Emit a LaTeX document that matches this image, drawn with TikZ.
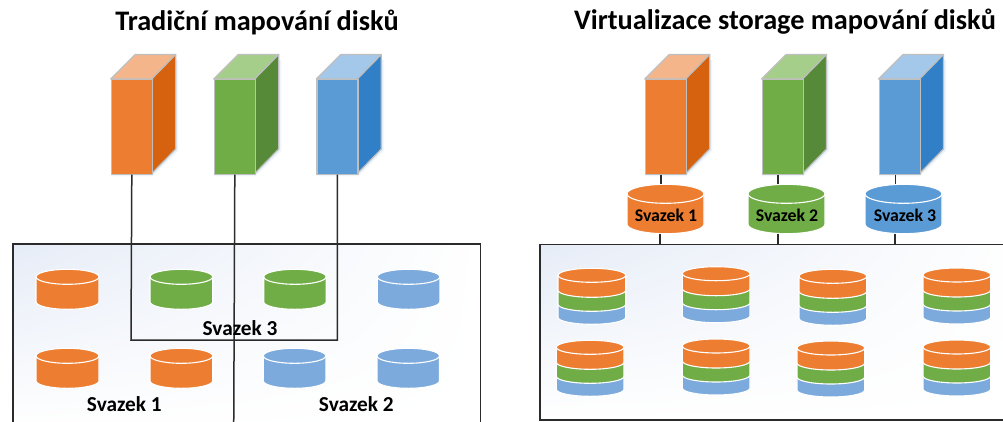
\documentclass[tikz,border=0pt]{standalone}
\usetikzlibrary{shadings}
\usepackage{fontspec}
\setmainfont{Carlito}
\definecolor{cor}{HTML}{ED7D31}\definecolor{corS}{HTML}{D6620F}\definecolor{corT}{HTML}{F4B58B}
\definecolor{cgr}{HTML}{70AD47}\definecolor{cgrS}{HTML}{578A38}\definecolor{cgrT}{HTML}{A6CE8B}
\definecolor{cbl}{HTML}{5B9BD5}\definecolor{cblS}{HTML}{3180C7}\definecolor{cblT}{HTML}{A3C8E9}
\definecolor{cbd}{HTML}{7CAADC}\definecolor{cedge}{HTML}{BFBFBF}\definecolor{cglow}{HTML}{BBD6EE}
\definecolor{cline}{HTML}{2B2B2B}\definecolor{cpale}{HTML}{E6ECF7}
\tikzset{
  x=1pt,y=-1pt,
  wire/.style={draw=cline,line width=1.5pt},
  frame/.style={draw=cline,line width=1.5pt,upper left=cpale,upper right=white,lower left=white,lower right=white},
  titletext/.style={font=\bfseries\fontsize{28.3}{32}\selectfont,inner sep=0pt,text=black},
  voltext/.style={font=\bfseries\fontsize{21.3}{24}\selectfont,inner sep=0pt,text=black},
  voltextsm/.style={font=\bfseries\fontsize{17.8}{20}\selectfont,inner sep=0pt,text=black},
  face/.style={draw=cedge,line width=1.2pt,line join=round},
  diskfill/.style={fill=#1,draw=white,line width=1.1pt,line join=round},
}
% server: name, left x, colour stem
\newcommand\serverbox[3]{%
  \foreach \g/\o in {5/0.10,3.5/0.14,2/0.18}{
    \draw[cglow,opacity=\o,line width=\g pt,line join=round]
      (#2+1,174) -- (#2+41,174) -- (#2+65.5,150) -- (#2+65.5,60);
  }
  \path[fill=#3T,face] (#2,79) -- (#2+24.5,54.5) -- (#2+65,54.5) -- (#2+41,79) -- cycle;
  \path[fill=#3S,face] (#2+41,79) -- (#2+65,54.5) -- (#2+65,149) -- (#2+41,173.5) -- cycle;
  \node[name=#1,draw=cedge,fill=#3,line width=1.2pt,inner sep=0pt,minimum width=41pt,minimum height=94.5pt,anchor=north west] at (#2,79) {};
}
% disk: name, left x, top y, width, height, ry, colour
\newcommand\diskshape[7]{%
  \path[diskfill=#7] (#2,#3+#6)
     arc[start angle=180,end angle=0,x radius=#4/2*1pt,y radius=#6*1pt]
     -- (#2+#4,#3+#5-#6)
     arc[start angle=0,end angle=-180,x radius=#4/2*1pt,y radius=#6*1pt] -- cycle;
  \draw[white,line width=1.1pt] (#2,#3+#6) arc[start angle=180,end angle=360,x radius=#4/2*1pt,y radius=#6*1pt];
  \coordinate (#1) at (#2+#4/2,#3+#5/2);
}
\newcommand\stackdisk[3]{%
  \diskshape{#1b}{#2}{#3+28}{67.7}{28}{7}{cbd}
  \diskshape{#1g}{#2}{#3+14}{67.7}{29}{7}{cgr}
  \diskshape{#1o}{#2}{#3}{67.7}{29}{7}{cor}
}
\begin{document}
\begin{tikzpicture}
\useasboundingbox (0,0) rectangle (1003,421);
\clip (0,0) rectangle (1003,421);
% frames
\path[frame,shade] (13,244) rectangle (480.7,430);
\path[frame,shade] (540,244.7) rectangle (1030,420);
\coordinate (rf1) at (660,244.7);
\coordinate (rf2) at (778,244.7);
\coordinate (rf3) at (895,244.7);
% left disks
\diskshape{a1}{36}{269.3}{63}{40}{7.5}{cor}
\diskshape{a2}{150}{269.3}{62.7}{40}{7.5}{cgr}
\diskshape{a3}{263.7}{269.3}{62.5}{40}{7.5}{cgr}
\diskshape{a4}{377.3}{269.3}{62.5}{40}{7.5}{cbd}
\diskshape{b1}{36}{348.3}{63}{40}{7.5}{cor}
\diskshape{b2}{150}{348.3}{62.7}{40}{7.5}{cor}
\diskshape{b3}{263.3}{348.3}{62.5}{40}{7.5}{cbd}
\diskshape{b4}{377}{348.3}{62.5}{40}{7.5}{cbd}
% left servers
\serverbox{sa}{110.7}{cor}
\serverbox{sb}{213.7}{cgr}
\serverbox{sc}{316.3}{cbl}
% left wiring
\coordinate (w3) at (337.3,340);
\coordinate (w1) at (131,340);
\coordinate (wb) at (233.7,430);
\draw[wire] (sa.south) -- (w1) -- (w3) -- (sc.south);
\draw[wire] (sb.south) -- (wb);
% right servers
\serverbox{ra}{644.7}{cor}
\serverbox{rb}{761.5}{cgr}
\serverbox{rc}{878.5}{cbl}
% volumes
\diskshape{va}{627}{184.3}{77}{49.4}{9.5}{cor}
\diskshape{vb}{748}{184.3}{77}{49.4}{9.5}{cgr}
\diskshape{vc}{865}{184.3}{77}{49.4}{9.5}{cbl}
\coordinate (vat) at (661,184.3);\coordinate (vbt) at (778,184.3);\coordinate (vct) at (895.3,184.3);
\coordinate (vab) at (660,233.7);\coordinate (vbb) at (778,233.7);\coordinate (vcb) at (895,233.7);
\draw[wire] (ra.south -| vat) -- (vat);
\draw[wire] (rb.south -| vbt) -- (vbt);
\draw[wire] (rc.south -| vct) -- (vct);
\draw[wire] (vab) -- (rf1);
\draw[wire] (vbb) -- (rf2);
\draw[wire] (vcb) -- (rf3);
% stacks
\stackdisk{p1}{558}{268.3}
\stackdisk{p2}{682.3}{266.7}
\stackdisk{p3}{799}{269.3}
\stackdisk{p4}{923}{268}
\stackdisk{p5}{556.3}{340.3}
\stackdisk{p6}{682.3}{339}
\stackdisk{p7}{797}{341}
\stackdisk{p8}{923}{340}
% texts
\node[titletext,name=t1] at (257,22) {Tradiční mapování disků};
\node[titletext,name=t2] at (785,22) {Virtualizace storage mapování disků};
\node[voltext,name=l3] at (240,328) {Svazek 3};
\node[voltext,name=l1] at (124.3,404) {Svazek 1};
\node[voltext,name=l2] at (356.3,404) {Svazek 2};
\node[voltextsm,name=m1] at (666,215) {Svazek 1};
\node[voltextsm,name=m2] at (787,215) {Svazek 2};
\node[voltextsm,name=m3] at (905,215) {Svazek 3};
\end{tikzpicture}
\end{document}
